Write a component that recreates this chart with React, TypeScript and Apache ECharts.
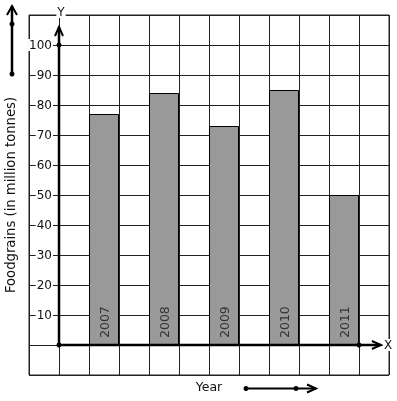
import React, { useEffect, useRef } from "react";
import * as echarts from "echarts";

const years = ["2007", "2008", "2009", "2010", "2011"];
const production = [77, 84, 73, 85, 50];
const barPositions = [1.5, 3.5, 5.5, 7.5, 9.5];
const labelledTicks = [10, 20, 30, 40, 50, 60, 70, 80, 90, 100];
const yTitle = "Foodgrains (in million tonnes)";
const xTitle = "Year";

const FONT = "DejaVu Sans";
const INK = "#111";

export default function App() {
  const ref = useRef<HTMLDivElement>(null);
  useEffect(() => {
    if (!ref.current) return;
    const chart = echarts.init(ref.current, null, { renderer: "svg" });
    chart.setOption({
      animation: false,
      grid: {
        left: 29,
        top: 15,
        width: 360,
        height: 360,
        containLabel: false,
        outerBoundsMode: "none",
        show: true,
        borderColor: "#222",
        borderWidth: 1,
        backgroundColor: "#fff",
      },
      xAxis: {
        type: "value",
        min: -1,
        max: 11,
        interval: 1,
        axisLine: { show: false },
        axisTick: { show: false },
        axisLabel: { show: false },
        splitLine: { show: true, lineStyle: { color: "#222", width: 1 } },
      },
      yAxis: {
        type: "value",
        min: -10,
        max: 110,
        interval: 10,
        name: yTitle,
        nameLocation: "middle",
        nameGap: 11,
        nameTextStyle: { fontFamily: FONT, fontSize: 13.2, color: INK },
        axisLine: { show: false },
        axisTick: { show: false },
        axisLabel: {
          inside: true,
          align: "right",
          margin: 24,
          fontFamily: FONT,
          fontSize: 12,
          color: INK,
          backgroundColor: "#fff",
          padding: [0, 1],
          formatter: (v: number) =>
            labelledTicks.indexOf(v) >= 0 ? String(v) : "",
        },
        splitLine: { show: true, lineStyle: { color: "#222", width: 1 } },
      },
      series: [
        {
          type: "bar",
          barWidth: 30,
          data: production.map((v, i) => [barPositions[i], v]),
          itemStyle: { color: "#999999", borderColor: "#000", borderWidth: 1 },
          label: {
            show: true,
            position: "insideBottom",
            rotate: 90,
            align: "left",
            verticalAlign: "middle",
            distance: 8,
            offset: [-1, 0],
            fontFamily: FONT,
            fontSize: 12.5,
            color: "#333",
            formatter: (p: any) => years[p.dataIndex],
          },
          z: 3,
        },
      ],
    });

    const px = (x: number, y: number) =>
      chart.convertToPixel({ gridIndex: 0 }, [x, y]) as number[];
    const o = px(0, 0);
    const y100 = px(0, 100);
    const yTip = px(0, 106);
    const x10 = px(10, 0);
    const xTip = px(10.73, 0);
    const axisStyle = { stroke: "#000", lineWidth: 2.5 };
    const headStyle = { stroke: "#000", lineWidth: 2, fill: "none" };
    const dot = (x: number, y: number) => ({
      type: "circle",
      shape: { cx: x, cy: y, r: 2.5 },
      style: { fill: "#000" },
      z: 10,
    });

    chart.setOption({
      graphic: [
        {
          type: "line",
          shape: { x1: o[0], y1: o[1], x2: yTip[0], y2: yTip[1] },
          style: axisStyle,
          z: 10,
        },
        {
          type: "polyline",
          shape: {
            points: [
              [yTip[0] - 4, yTip[1] + 9],
              [yTip[0], yTip[1]],
              [yTip[0] + 4, yTip[1] + 9],
            ],
          },
          style: headStyle,
          z: 10,
        },
        dot(o[0], o[1]),
        dot(y100[0], y100[1]),
        {
          type: "line",
          shape: { x1: o[0], y1: o[1], x2: xTip[0], y2: xTip[1] },
          style: axisStyle,
          z: 10,
        },
        {
          type: "polyline",
          shape: {
            points: [
              [xTip[0] - 9, xTip[1] - 4],
              [xTip[0], xTip[1]],
              [xTip[0] - 9, xTip[1] + 4],
            ],
          },
          style: headStyle,
          z: 10,
        },
        dot(x10[0], x10[1]),
        {
          type: "text",
          x: 61,
          y: 12,
          style: {
            text: "Y",
            fontFamily: FONT,
            fontSize: 12,
            fill: INK,
            align: "center",
            verticalAlign: "middle",
            backgroundColor: "#fff",
            padding: [0, 1],
          },
          z: 11,
        },
        {
          type: "text",
          x: 388,
          y: o[1],
          style: {
            text: "X",
            fontFamily: FONT,
            fontSize: 12,
            fill: INK,
            align: "center",
            verticalAlign: "middle",
            backgroundColor: "#fff",
            padding: [0, 1],
          },
          z: 11,
        },
        {
          type: "line",
          shape: { x1: 12, y1: 74, x2: 12, y2: 6 },
          style: axisStyle,
          z: 10,
        },
        {
          type: "polyline",
          shape: { points: [[7, 15], [12, 6], [17, 15]] },
          style: headStyle,
          z: 10,
        },
        dot(12, 24),
        dot(12, 74),
        {
          type: "text",
          x: 209,
          y: 386,
          style: {
            text: xTitle,
            fontFamily: FONT,
            fontSize: 12.5,
            fill: INK,
            align: "center",
            verticalAlign: "middle",
          },
        },
        {
          type: "line",
          shape: { x1: 246, y1: 388.5, x2: 316, y2: 388.5 },
          style: { stroke: "#000", lineWidth: 2 },
        },
        {
          type: "polyline",
          shape: { points: [[307, 384.5], [316, 388.5], [307, 392.5]] },
          style: headStyle,
        },
        dot(246, 388.5),
        dot(296, 388.5),
      ],
    });
    return () => chart.dispose();
  }, []);
  return (
    <div
      ref={ref}
      style={{ position: "fixed", left: 0, top: 0, width: 397, height: 401 }}
    />
  );
}
